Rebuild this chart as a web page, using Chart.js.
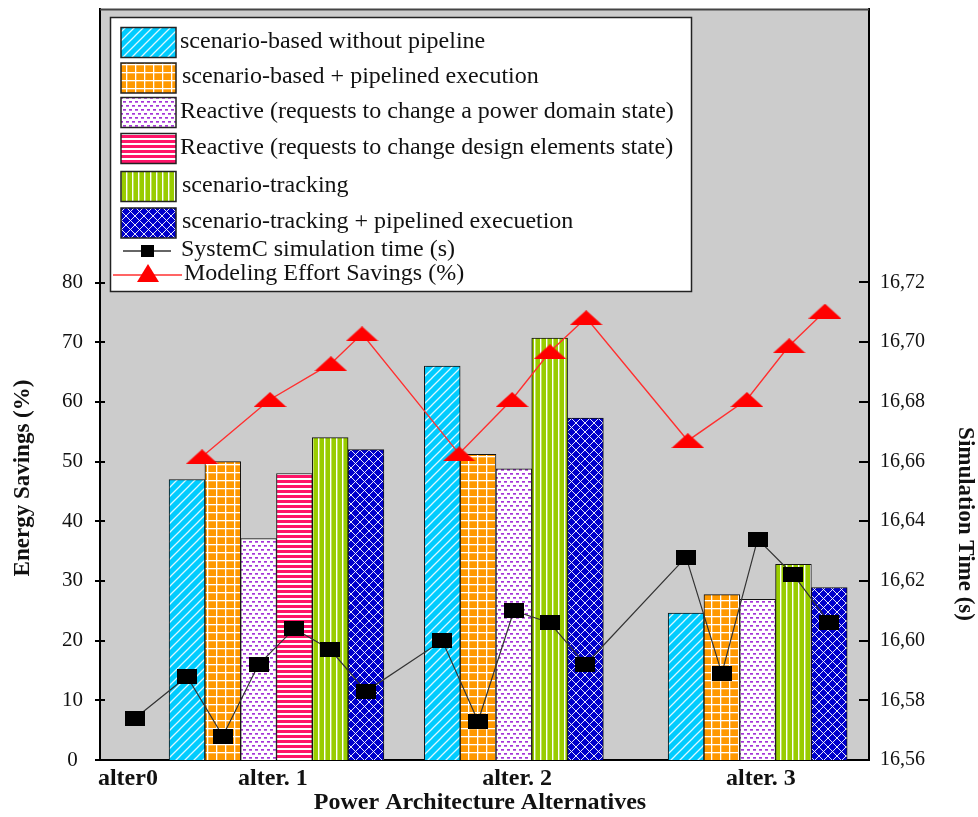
<!DOCTYPE html>
<html>
<head>
<meta charset="utf-8">
<script src="https://cdn.jsdelivr.net/npm/chart.js@4.4.1/dist/chart.umd.min.js"></script>
<style>
  html, body { margin: 0; padding: 0; background: #fff; }
</style>
</head>
<body>
<canvas id="chart" width="978" height="817"></canvas>
<script>
// series (Energy Savings %, one value per alternative: alter. 1, alter. 2, alter. 3)
const seriesLabels = [
  "scenario-based without pipeline",
  "scenario-based + pipelined execution",
  "Reactive (requests to change a power domain state)",
  "Reactive (requests to change design elements state)",
  "scenario-tracking",
  "scenario-tracking + pipelined execuetion"
];
const basedNoPipe = [47.0, 66.0, 24.6];
const basedPipe = [50.0, 51.2, 27.7];
const reactiveDomain = [37.1, 48.8, 26.9];
const reactiveElements = [48.0, null, null];
const tracking = [54.0, 70.7, 32.8];
const trackingPipe = [52.0, 57.3, 28.9];

// line series
const simLabel = "SystemC simulation time (s)";
const simTime = [16.574,
  16.588, 16.568, 16.592, 16.604, 16.597, 16.583,
  16.600, 16.573, 16.610, 16.606, 16.592,
  16.628, 16.589, 16.634, 16.622, 16.606];
const effortLabel = "Modeling Effort Savings (%)";
const effortSavings = [50.8, 60.4, 66.4, 71.4, 51.3, 60.4, 68.4, 74.1, 53.5, 60.4, 69.4, 75.2];

// axes
const xTickLabels = ["alter0", "alter. 1", "alter. 2", "alter. 3"];
const leftTicks = [0, 10, 20, 30, 40, 50, 60, 70, 80];
const rightTicks = [16.56, 16.58, 16.60, 16.62, 16.64, 16.66, 16.68, 16.70, 16.72];

// positions along x, in bar-width slots
const xTickSlot = [0.78, 4.83, 11.65, 18.46];
const groupStartSlot = [2.43, 9.56, 16.37];
const alter0Slot = 0.98;
const effortSlot = [2.85, 4.75, 6.45, 7.32, 10.03, 11.51, 12.57, 13.58, 16.42, 18.07, 19.25, 20.25];

const SERIF = "'Liberation Serif', 'Times New Roman', serif";
const barSeries = [basedNoPipe, basedPipe, reactiveDomain, reactiveElements, tracking, trackingPipe];

function tile(w, h, draw) {
  const c = document.createElement("canvas");
  c.width = w; c.height = h;
  const g = c.getContext("2d");
  draw(g, w, h);
  return c;
}
function pattern(w, h, draw) {
  const c = tile(w, h, draw);
  return c.getContext("2d").createPattern(c, "repeat");
}

const patterns = [
  pattern(9, 9, (g, w, h) => {
    g.fillStyle = "#00CCFF"; g.fillRect(0, 0, w, h);
    g.strokeStyle = "rgba(255,255,255,0.85)"; g.lineWidth = 1.3;
    g.beginPath();
    g.moveTo(-1, h + 1); g.lineTo(w + 1, -1);
    g.moveTo(-2, 2); g.lineTo(2, -2);
    g.moveTo(w - 2, h + 2); g.lineTo(w + 2, h - 2);
    g.stroke();
  }),
  pattern(9, 8, (g, w, h) => {
    g.fillStyle = "#FF9900"; g.fillRect(0, 0, w, h);
    g.fillStyle = "#fff"; g.fillRect(0, 0, w, 1.3); g.fillRect(0, 0, 1.3, h);
  }),
  pattern(6, 8, (g, w, h) => {
    g.fillStyle = "#fff"; g.fillRect(0, 0, w, h);
    g.fillStyle = "#A535D8"; g.fillRect(0, 1, 3, 1.7); g.fillRect(3, 5, 3, 1.7);
  }),
  pattern(4, 5, (g, w, h) => {
    g.fillStyle = "#FF1468"; g.fillRect(0, 0, w, h);
    g.fillStyle = "#fff"; g.fillRect(0, 3, w, 2);
  }),
  pattern(6, 4, (g, w, h) => {
    g.fillStyle = "#99CC00"; g.fillRect(0, 0, w, h);
    g.fillStyle = "#fff"; g.fillRect(0, 0, 1.4, h);
  }),
  pattern(9, 9, (g, w, h) => {
    g.fillStyle = "#0000CC"; g.fillRect(0, 0, w, h);
    g.strokeStyle = "rgba(255,255,255,0.9)"; g.lineWidth = 1;
    g.beginPath();
    g.moveTo(-1, h + 1); g.lineTo(w + 1, -1);
    g.moveTo(-1, -1); g.lineTo(w + 1, h + 1);
    g.stroke();
  })
];

const squareMark = tile(20, 15, (g, w, h) => { g.fillStyle = "#000"; g.fillRect(0, 0, w, h); });
const triMark = tile(33, 15, (g, w, h) => {
  g.fillStyle = "#FF0000";
  g.beginPath(); g.moveTo(w / 2, 0); g.lineTo(w, h); g.lineTo(0, h); g.closePath(); g.fill();
});

function barSlot(g, s) {
  let k = 0;
  for (let i = 0; i < s; i++) if (barSeries[i][g] != null) k++;
  return groupStartSlot[g] + k;
}

const barDatasets = barSeries.map((vals, s) => ({
  type: "bar",
  label: seriesLabels[s],
  data: vals.map((v, g) => (v == null ? null : { x: barSlot(g, s), y: v })).filter(Boolean),
  backgroundColor: patterns[s],
  borderColor: "#111",
  borderWidth: 1,
  grouped: false,
  barPercentage: 1,
  categoryPercentage: 1,
  yAxisID: "y",
  order: 2
}));

const simSlots = [alter0Slot];
groupStartSlot.forEach((_, g) => {
  barSeries.forEach((vals, s) => { if (vals[g] != null) simSlots.push(barSlot(g, s)); });
});

const simDataset = {
  type: "line",
  label: simLabel,
  data: simTime.map((v, i) => ({ x: simSlots[i], y: v })),
  borderColor: "#333",
  borderWidth: 1.2,
  pointStyle: squareMark,
  pointRadius: 8,
  tension: 0,
  fill: false,
  yAxisID: "yR",
  order: 1
};
const effortDataset = {
  type: "line",
  label: effortLabel,
  data: effortSavings.map((v, i) => ({ x: effortSlot[i], y: v })),
  borderColor: "#FF3030",
  borderWidth: 1.4,
  pointStyle: triMark,
  pointRadius: 8,
  tension: 0,
  fill: false,
  yAxisID: "y",
  order: 0
};

const framePlugin = {
  id: "frame",
  beforeDraw(chart) {
    const { ctx, chartArea: a } = chart;
    ctx.save();
    ctx.fillStyle = "#fff";
    ctx.fillRect(0, 0, chart.width, chart.height);
    ctx.fillStyle = "#CCCCCC";
    ctx.fillRect(a.left, a.top, a.right - a.left, a.bottom - a.top);
    ctx.restore();
  },
  afterDraw(chart) {
    const { ctx, chartArea: a, scales } = chart;
    ctx.save();
    ctx.strokeStyle = "#444";
    ctx.lineWidth = 2;
    ctx.beginPath();
    ctx.moveTo(a.left, a.top); ctx.lineTo(a.right, a.top);
    ctx.stroke();
    ctx.strokeStyle = "#000";
    ctx.beginPath();
    leftTicks.forEach(v => {
      const y = Math.round(scales.y.getPixelForValue(v));
      ctx.moveTo(a.left - 5, y); ctx.lineTo(a.left + 5, y);
    });
    rightTicks.forEach(v => {
      const y = Math.round(scales.yR.getPixelForValue(v));
      ctx.moveTo(a.right - 10, y); ctx.lineTo(a.right, y);
    });
    ctx.stroke();

    // axis titles
    ctx.fillStyle = "#111";
    ctx.textAlign = "center";
    ctx.textBaseline = "middle";
    ctx.font = "bold 23px " + SERIF;
    ctx.save();
    ctx.translate(23, 478); ctx.rotate(-Math.PI / 2);
    ctx.fillText("Energy Savings (%)", 0, 0);
    ctx.restore();
    ctx.save();
    ctx.translate(965, 524); ctx.rotate(Math.PI / 2);
    ctx.fillText("Simulation Time (s)", 0, 0);
    ctx.restore();
    ctx.font = "bold 24px " + SERIF;
    ctx.fillText("Power Architecture Alternatives", 480, 803);
    ctx.restore();
  }
};

const legendPlugin = {
  id: "boxLegend",
  afterDraw(chart) {
    const ctx = chart.ctx;
    const rowY = [42.5, 78, 112.5, 148.5, 186.5, 223];
    const textX = [180, 182, 180, 180, 182, 182];
    ctx.save();
    ctx.fillStyle = "#fff";
    ctx.fillRect(110, 17, 582, 275);
    ctx.strokeStyle = "#222";
    ctx.lineWidth = 1.5;
    ctx.strokeRect(110.5, 17.5, 581, 274);

    ctx.font = "24px " + SERIF;
    ctx.textBaseline = "middle";
    ctx.textAlign = "left";
    seriesLabels.forEach((lab, s) => {
      const y0 = rowY[s] - 15;
      ctx.fillStyle = patterns[s];
      ctx.fillRect(121, y0, 55, 30);
      ctx.strokeStyle = "#222";
      ctx.lineWidth = 1.5;
      ctx.strokeRect(121, y0, 55, 30);
      ctx.fillStyle = "#111";
      ctx.fillText(lab, textX[s], rowY[s] - 1);
    });

    ctx.strokeStyle = "#333";
    ctx.lineWidth = 1.5;
    ctx.beginPath(); ctx.moveTo(123, 251); ctx.lineTo(171, 251); ctx.stroke();
    ctx.fillStyle = "#000";
    ctx.fillRect(141, 245, 13, 12);
    ctx.fillStyle = "#111";
    ctx.fillText(simLabel, 181, 250);

    ctx.strokeStyle = "#FF3030";
    ctx.beginPath(); ctx.moveTo(113, 275); ctx.lineTo(182, 275); ctx.stroke();
    ctx.fillStyle = "#FF0000";
    ctx.beginPath(); ctx.moveTo(148, 264); ctx.lineTo(159, 282); ctx.lineTo(137, 282); ctx.closePath(); ctx.fill();
    ctx.fillStyle = "#111";
    ctx.fillText(effortLabel, 184, 274);
    ctx.restore();
  }
};

function noPad(s) {
  s.paddingTop = 0; s.paddingBottom = 0; s.paddingLeft = 0; s.paddingRight = 0;
}

new Chart(document.getElementById("chart"), {
  type: "bar",
  data: { datasets: [effortDataset, simDataset, ...barDatasets] },
  options: {
    responsive: false,
    animation: false,
    layout: { padding: { top: 7, left: 0, right: 0, bottom: 0 } },
    plugins: { legend: { display: false }, tooltip: { enabled: false } },
    scales: {
      x: {
        type: "linear",
        min: 0,
        max: 21.48,
        offset: false,
        grid: { display: false, drawTicks: false },
        border: { display: true, color: "#000", width: 2 },
        afterBuildTicks: s => { s.ticks = xTickSlot.map(v => ({ value: v })); },
        ticks: {
          autoSkip: false,
          maxRotation: 0,
          padding: 4,
          color: "#111",
          font: { family: SERIF, size: 24, weight: "bold" },
          callback: (v, i) => xTickLabels[i]
        },
        afterFit: s => { s.height = 57; noPad(s); }
      },
      y: {
        position: "left",
        min: 0,
        max: 125.76,
        grid: { display: false, drawTicks: false },
        border: { display: true, color: "#000", width: 2 },
        afterBuildTicks: s => { s.ticks = leftTicks.map(v => ({ value: v })); },
        ticks: { padding: 17, crossAlign: "center", color: "#111", font: { family: SERIF, size: 21 } },
        afterFit: s => { s.width = 100; noPad(s); }
      },
      yR: {
        position: "right",
        min: 16.56,
        max: 16.8115,
        grid: { display: false, drawTicks: false },
        border: { display: true, color: "#000", width: 2 },
        afterBuildTicks: s => { s.ticks = rightTicks.map(v => ({ value: v })); },
        ticks: {
          padding: 11,
          color: "#111",
          font: { family: SERIF, size: 20 },
          callback: v => v.toFixed(2).replace(".", ",")
        },
        afterFit: s => { s.width = 109; noPad(s); }
      }
    }
  },
  plugins: [framePlugin, legendPlugin]
});
</script>
</body>
</html>
